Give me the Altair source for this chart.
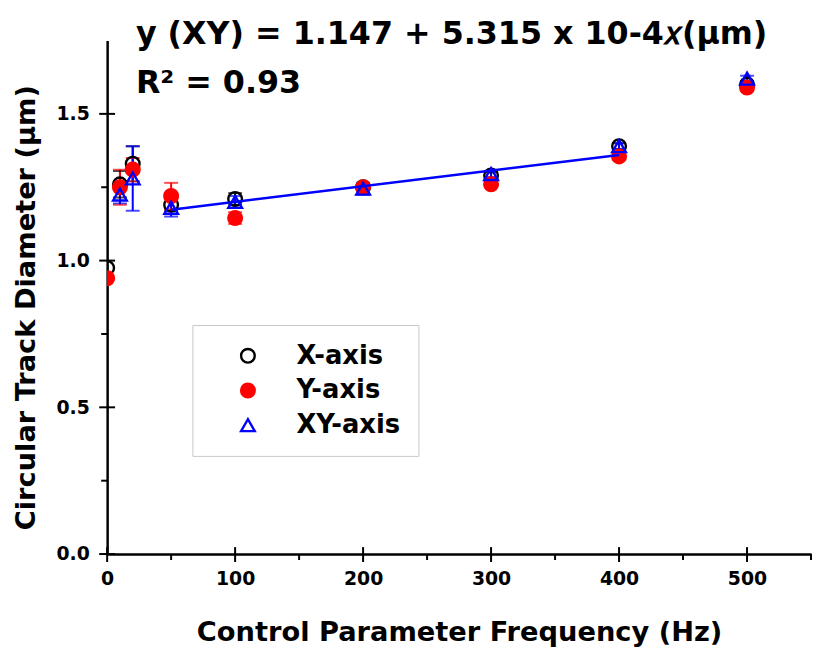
import altair as alt
import pandas as pd

# ---- data ----
series_names = ["X-axis", "Y-axis", "XY-axis"]

freq_x = [0, 10, 20, 50, 100, 200, 300, 400, 500]
diam_x = [0.975, 1.26, 1.33, 1.19, 1.21, 1.25, 1.29, 1.39, 1.60]
err_x = [0.0, 0.045, 0.06, 0.02, 0.02, 0.01, 0.01, 0.01, 0.01]

freq_y = [0, 10, 20, 50, 100, 200, 300, 400, 500]
diam_y = [0.94, 1.25, 1.31, 1.22, 1.145, 1.25, 1.26, 1.355, 1.59]
err_y = [0.0, 0.06, 0.04, 0.045, 0.02, 0.01, 0.01, 0.01, 0.01]

freq_xy = [10, 20, 50, 100, 200, 300, 400, 500]
diam_xy = [1.225, 1.28, 1.18, 1.20, 1.245, 1.295, 1.39, 1.62]
err_xy = [0.03, 0.11, 0.03, 0.02, 0.02, 0.01, 0.01, 0.01]

fit_intercept = 1.147
fit_slope = 5.315e-4
fit_x = [50, 400]

x_major = [0, 100, 200, 300, 400, 500]
x_minor = [50, 150, 250, 350, 450, 550]
y_major = [0.0, 0.5, 1.0, 1.5]
y_minor = [0.25, 0.75, 1.25]

title_line1 = "y (XY) = 1.147 + 5.315 x 10-4\U0001D465(µm)"
title_line2 = "R² = 0.93"

# ---- tables ----
rows = []
for name, fx, dy, ey in [("X-axis", freq_x, diam_x, err_x),
                         ("Y-axis", freq_y, diam_y, err_y),
                         ("XY-axis", freq_xy, diam_xy, err_xy)]:
    for f, d, e in zip(fx, dy, ey):
        rows.append({"series": name, "freq": f, "diam": d, "lo": d - e, "hi": d + e, "err": e})
df = pd.DataFrame(rows)
df["ord"] = range(len(df))
df_err = df[df["err"] > 0]
fit_df = pd.DataFrame({"freq": fit_x, "diam": [fit_intercept + fit_slope * v for v in fit_x]})

W, H = 710, 518
FONT = "DejaVu Sans"

xscale = alt.Scale(domain=[0, 550], nice=False, zero=False)
yscale = alt.Scale(domain=[0, 1.75], nice=False)

stroke_scale = alt.Scale(domain=series_names, range=["black", "red", "blue"])
fill_scale = alt.Scale(domain=series_names, range=["transparent", "red", "transparent"])
shape_scale = alt.Scale(domain=series_names, range=["circle", "circle", "triangle-up"])

leg = alt.Legend(
    title=None, orient="none", legendX=86, legendY=287,
    padding=18, strokeColor="#c8c8c8", fillColor="white",
    labelFont=FONT, labelFontSize=26, labelFontWeight="bold", labelColor="black",
    symbolSize=190, symbolStrokeWidth=2.4, rowPadding=9, labelOffset=36,
    symbolOffset=25,
)

xax = alt.X("freq:Q", scale=xscale, axis=alt.Axis(
    title="Control Parameter Frequency (Hz)", values=x_major, format="d",
    labelFlush=False, ticks=False, grid=False, labelPadding=16,
    titlePadding=30))
yax = alt.Y("diam:Q", scale=yscale, axis=alt.Axis(
    title="Circular Track Diameter (µm)", values=y_major, format=".1f",
    ticks=False, grid=False, labelPadding=18, titlePadding=16, titleY=H / 2 + 10))

err_rules = alt.Chart(df_err).mark_rule(strokeWidth=2).encode(
    x=alt.X("freq:Q", scale=xscale),
    y=alt.Y("lo:Q", scale=yscale),
    y2="hi:Q",
    color=alt.Color("series:N", scale=stroke_scale, legend=None),
)
caps_lo = alt.Chart(df_err).mark_tick(orient="horizontal", size=14, thickness=2).encode(
    x=alt.X("freq:Q", scale=xscale),
    y=alt.Y("lo:Q", scale=yscale),
    color=alt.Color("series:N", scale=stroke_scale, legend=None),
)
caps_hi = alt.Chart(df_err).mark_tick(orient="horizontal", size=14, thickness=2).encode(
    x=alt.X("freq:Q", scale=xscale),
    y=alt.Y("hi:Q", scale=yscale),
    color=alt.Color("series:N", scale=stroke_scale, legend=None),
)

points = alt.Chart(df).mark_point(
    size=190, strokeWidth=2.4, filled=False, opacity=1, clip=True).encode(
    x=xax, y=yax,
    stroke=alt.Stroke("series:N", scale=stroke_scale, legend=leg, sort=series_names),
    fill=alt.Fill("series:N", scale=fill_scale, legend=leg, sort=series_names),
    shape=alt.Shape("series:N", scale=shape_scale, legend=leg, sort=series_names),
    order=alt.Order("ord:Q"),
)

fit_line = alt.Chart(fit_df).mark_line(color="blue", strokeWidth=2.5).encode(
    x=alt.X("freq:Q", scale=xscale), y=alt.Y("diam:Q", scale=yscale))

tick_x_major = alt.Chart(pd.DataFrame({"xmaj": x_major})).mark_rule(color="black", strokeWidth=2).encode(
    x=alt.X("xmaj:Q", scale=xscale), y=alt.value(H - 7), y2=alt.value(H + 8))
tick_x_minor = alt.Chart(pd.DataFrame({"xmin": x_minor})).mark_rule(color="black", strokeWidth=2).encode(
    x=alt.X("xmin:Q", scale=xscale), y=alt.value(H), y2=alt.value(H + 6))
tick_y_major = alt.Chart(pd.DataFrame({"ymaj": y_major})).mark_rule(color="black", strokeWidth=2).encode(
    y=alt.Y("ymaj:Q", scale=yscale), x=alt.value(-8), x2=alt.value(8))
tick_y_minor = alt.Chart(pd.DataFrame({"ymin": y_minor})).mark_rule(color="black", strokeWidth=2).encode(
    y=alt.Y("ymin:Q", scale=yscale), x=alt.value(-6), x2=alt.value(0))

txt1 = alt.Chart(pd.DataFrame({"t": [title_line1]})).mark_text(
    align="left", baseline="alphabetic", font=FONT, fontSize=32, fontWeight="bold", color="black"
).encode(x=alt.value(29), y=alt.value(4), text="t:N")
txt2 = alt.Chart(pd.DataFrame({"t": [title_line2]})).mark_text(
    align="left", baseline="alphabetic", font=FONT, fontSize=32, fontWeight="bold", color="black"
).encode(x=alt.value(29), y=alt.value(53), text="t:N")

chart = alt.layer(
    err_rules, caps_lo, caps_hi, points, fit_line,
    tick_x_major, tick_x_minor, tick_y_major, tick_y_minor, txt1, txt2,
).resolve_scale(color="independent").properties(
    width=W, height=H,
    autosize=alt.AutoSizeParams(type="none"),
    padding={"left": 100, "top": 30, "right": 2, "bottom": 95},
    background="white",
).configure_view(stroke=None).configure_axis(
    domainColor="black", domainWidth=2.5,
    labelFont=FONT, labelFontSize=19, labelFontWeight="bold", labelColor="black",
    titleFont=FONT, titleFontSize=27.5, titleFontWeight="bold", titleColor="black",
)

chart.save("out.html", embed_options={"renderer": "svg", "actions": False})
